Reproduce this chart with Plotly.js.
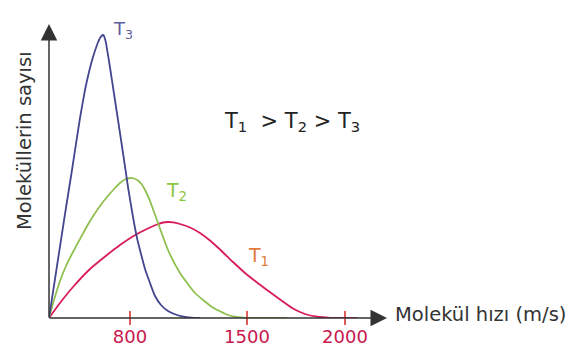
<!DOCTYPE html>
<html>
<head>
<meta charset="utf-8">
<script src="https://cdn.plot.ly/plotly-3.0.1.min.js"></script>
<style>html,body{margin:0;padding:0;background:#fff;}#chart{width:583px;height:362px;}</style>
</head>
<body>
<div id="chart"></div>
<script>
// Schematic speed axis (arbitrary units along the drawn axis)
const tickVals = [81, 198, 296];
const tickText = ['800', '1500', '2000'];

// T3 (coldest)
const t3X = [0, 8, 16, 23, 31, 36, 40, 44, 48, 51, 54, 55, 56, 57, 58, 60, 62, 64, 69, 74, 79, 84, 88, 92, 96, 101, 106, 112, 119, 128, 136, 145, 151];
const t3Y = [0, 52, 104, 148, 200, 228, 246, 261, 273, 280, 283, 282, 279, 275, 269, 257, 244, 231, 198, 165, 131, 101, 80, 64, 49, 35, 22, 13, 7, 3, 1, 0.2, 0];

// T2
const t2X = [0, 5, 11, 17, 24, 31, 41, 51, 58, 66, 71, 76, 81, 85, 89, 92, 95, 98, 101, 109, 119, 131, 146, 163, 179, 194, 201, 238];
const t2Y = [0, 18, 37, 52, 66, 79, 97, 112, 121, 130, 135, 138.5, 140, 139.5, 137.5, 134.5, 130, 124, 117, 95, 68, 45, 25, 11, 3, 0.3, 0, 0];

// T1 (hottest)
const t1X = [0, 11, 24, 41, 58, 71, 88, 101, 108, 114, 119, 124, 131, 141, 151, 161, 171, 184, 196, 208, 218, 231, 244, 256, 268, 281, 308];
const t1Y = [0, 15, 31, 49, 63, 73, 84, 90.5, 93.5, 95.5, 96, 95.7, 94, 90.5, 85, 77.5, 68.5, 56, 45, 35.5, 28, 18.5, 9.5, 4, 1.3, 0.2, 0];

const FONT = 'DejaVu Sans, sans-serif';
const lineStyle = (c) => ({color: c, width: 1.8, shape: 'spline', smoothing: 0.5});

const traces = [
  {x: t1X, y: t1Y, mode: 'lines', line: lineStyle('#d81b5a'), cliponaxis: false, hoverinfo: 'skip'},
  {x: t2X, y: t2Y, mode: 'lines', line: lineStyle('#8fbf4f'), cliponaxis: false, hoverinfo: 'skip'},
  {x: t3X, y: t3Y, mode: 'lines', line: lineStyle('#44468f'), cliponaxis: false, hoverinfo: 'skip'},
  {x: tickVals, y: tickVals.map(() => 0), mode: 'markers', marker: {symbol: 'line-ns-open', size: 10, line: {color: '#333', width: 1.5}}, cliponaxis: false, hoverinfo: 'skip'}
];

const layout = {
  width: 583, height: 362,
  margin: {l: 49, r: 196, t: 24, b: 44},
  paper_bgcolor: '#fff', plot_bgcolor: '#fff',
  showlegend: false,
  font: {family: FONT, color: '#2b2b2b'},
  xaxis: {range: [0, 338], showgrid: false, zeroline: false, showline: false,
          tickvals: tickVals, ticktext: tickText, ticks: '', ticklabelstandoff: 6,
          tickfont: {family: FONT, size: 18, color: '#c8184e'}, fixedrange: true},
  yaxis: {range: [0, 294], showgrid: false, zeroline: false, showline: false,
          showticklabels: false, ticks: '', fixedrange: true},
  annotations: [
    // axes arrows
    {x: 338, y: 0, ax: -1, ay: 0, axref: 'x', ayref: 'y', xref: 'x', yref: 'y', text: '', showarrow: true,
     arrowhead: 2, arrowsize: 2.2, arrowwidth: 1.5, arrowcolor: '#333', standoff: 0},
    {x: 0, y: 294, ax: 0, ay: -1, axref: 'x', ayref: 'y', xref: 'x', yref: 'y', text: '', showarrow: true,
     arrowhead: 2, arrowsize: 2.2, arrowwidth: 1.5, arrowcolor: '#333', standoff: 0},
    // curve labels
    {x: 62, y: 288, xref: 'x', yref: 'y', xanchor: 'left', yanchor: 'middle', showarrow: false,
     text: 'T<sub>3</sub>', font: {family: FONT, size: 18, color: '#5d5d9d'}},
    {x: 115, y: 127, xref: 'x', yref: 'y', xanchor: 'left', yanchor: 'middle', showarrow: false,
     text: 'T<sub>2</sub>', font: {family: FONT, size: 19, color: '#8dc63f'}},
    {x: 197, y: 62, xref: 'x', yref: 'y', xanchor: 'left', yanchor: 'middle', showarrow: false,
     text: 'T<sub>1</sub>', font: {family: FONT, size: 19, color: '#e07d3c'}},
    {x: 173, y: 196, xref: 'x', yref: 'y', xanchor: 'left', yanchor: 'middle', showarrow: false,
     text: 'T<sub>1</sub>&nbsp; &gt; T<sub>2</sub> &gt; T<sub>3</sub>', font: {family: FONT, size: 21, color: '#222'}},
    // axis titles
    {x: 1.018, y: 0.012, xref: 'paper', yref: 'paper', xanchor: 'left', yanchor: 'middle', showarrow: false,
     text: 'Molekül hızı (m/s)', font: {family: FONT, size: 19.5, color: '#333'}},
    {x: -0.074, y: 0.605, xref: 'paper', yref: 'paper', xanchor: 'center', yanchor: 'middle', showarrow: false,
     textangle: -90, text: 'Moleküllerin sayısı', font: {family: FONT, size: 19.5, color: '#333'}}
  ]
};

Plotly.newPlot('chart', traces, layout, {displayModeBar: false, staticPlot: true});
</script>
</body>
</html>
